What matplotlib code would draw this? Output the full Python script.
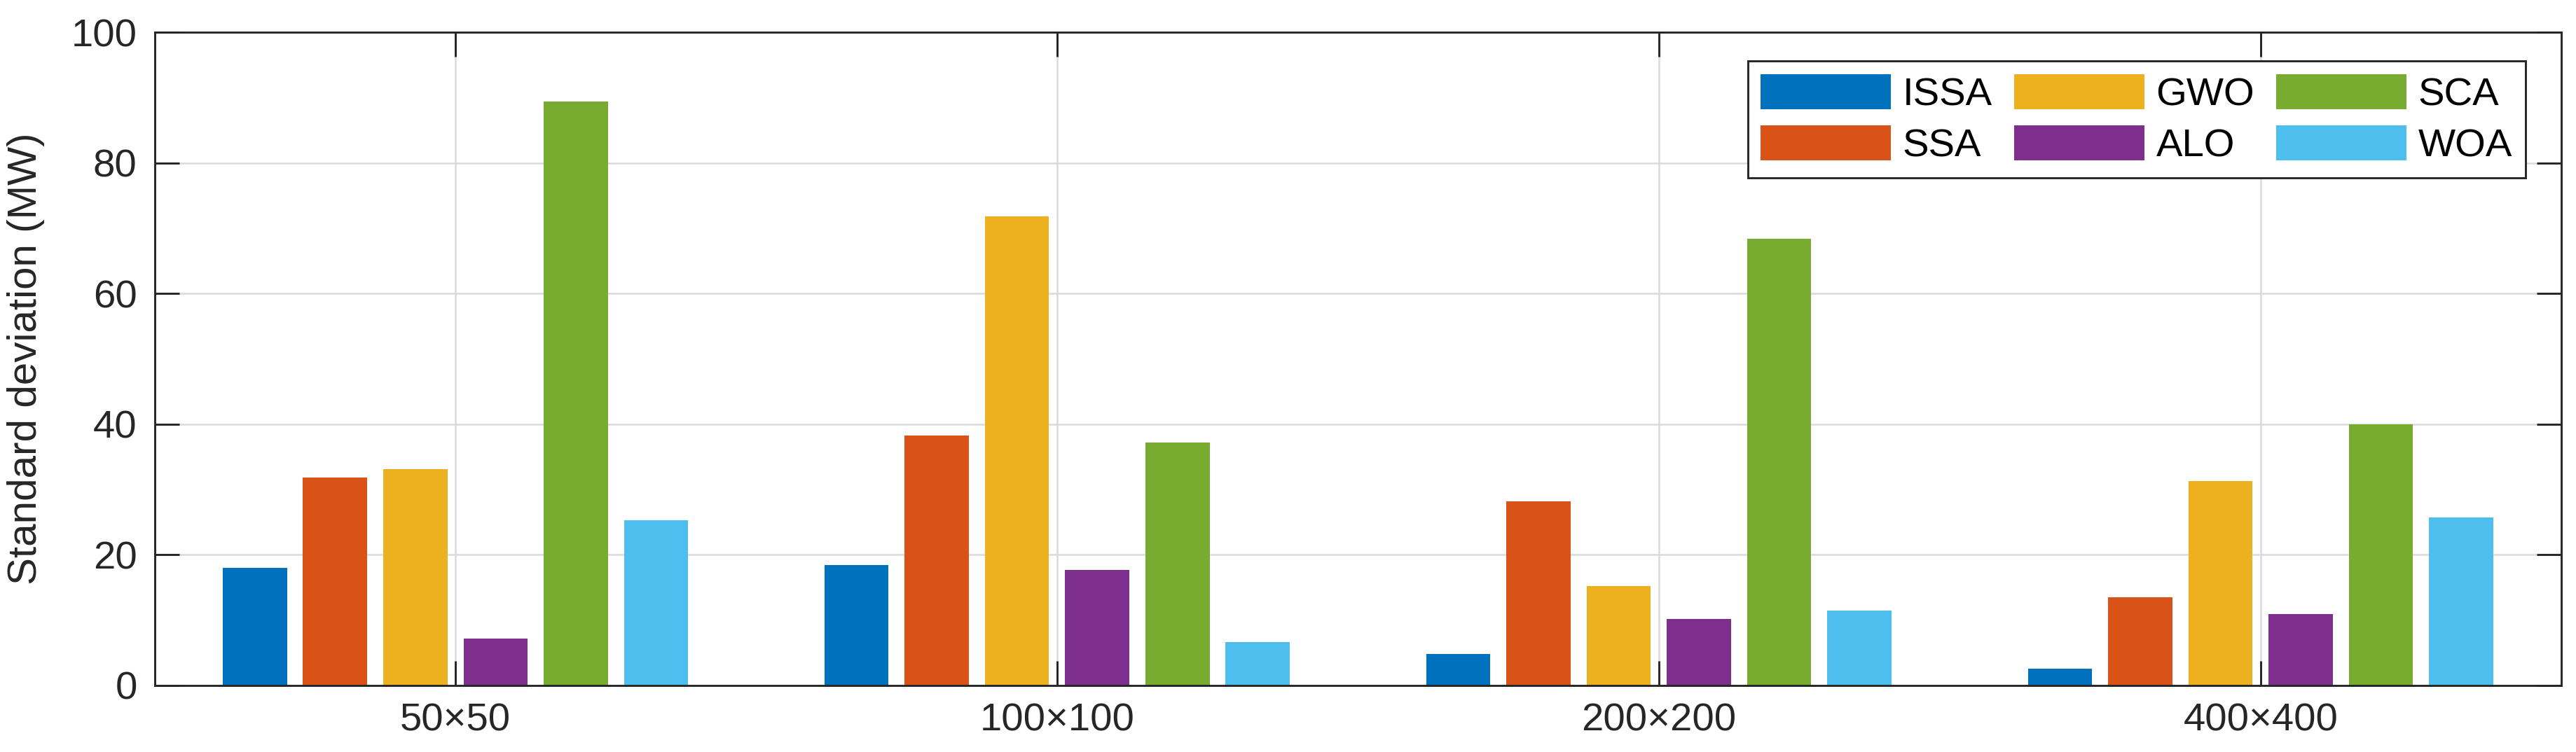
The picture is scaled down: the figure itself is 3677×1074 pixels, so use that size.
import numpy as np
import matplotlib
matplotlib.use("Agg")
import matplotlib.pyplot as plt

# ---------- Data ----------
categories = ["50×50", "100×100", "200×200", "400×400"]
algorithms = ["ISSA", "SSA", "GWO", "ALO", "SCA", "WOA"]

issa = [18.0, 18.4, 4.8, 2.6]
ssa = [31.8, 38.3, 28.2, 13.5]
gwo = [33.1, 71.8, 15.2, 31.3]
alo = [7.2, 17.7, 10.2, 10.9]
sca = [89.4, 37.2, 68.4, 40.0]
woa = [25.3, 6.6, 11.5, 25.7]

series = [issa, ssa, gwo, alo, sca, woa]
colors = ["#0072BD", "#D95319", "#EDB120", "#7E2F8E", "#77AC30", "#4DBEEE"]

plt.rcParams["font.family"] = ["Liberation Sans", "DejaVu Sans"]

fig = plt.figure(figsize=(12.257, 3.58), dpi=300)
ax = fig.add_axes([0.060, 0.0885, 0.9343, 0.8685])

x = np.arange(1, len(categories) + 1)
n = len(series)
step = 0.8 / n
for i, (vals, c, name) in enumerate(zip(series, colors, algorithms)):
    ax.bar(x + (i - (n - 1) / 2) * step, vals, width=step * 0.8, color=c,
           label=name, linewidth=0, zorder=2)

ax.set_xlim(0.5, 4.5)
ax.set_ylim(0, 100)
ax.set_xticks(x)
ax.set_xticklabels(categories)
ax.set_yticks([0, 20, 40, 60, 80, 100])
ax.set_ylabel("Standard deviation (MW)", fontsize=14, color="#262626", labelpad=9)

ax.grid(True, color="#dadada", linewidth=0.6, zorder=0)
ax.set_axisbelow(True)
for s in ax.spines.values():
    s.set_color("#262626")
    s.set_linewidth(0.7)
ax.tick_params(direction="in", length=8.5, width=0.7, color="#262626",
               labelsize=13.5, labelcolor="#262626", top=True, right=True, pad=6)

leg = ax.legend(ncol=3, loc="upper right", bbox_to_anchor=(0.985, 0.956),
                borderaxespad=0, fontsize=13.5, handlelength=3.3, handleheight=1.0,
                handletextpad=0.3, columnspacing=0.55, labelspacing=0.3,
                borderpad=0.33, fancybox=False, framealpha=1)
leg.get_frame().set_edgecolor("#262626")
leg.get_frame().set_linewidth(0.7)

fig.savefig("out.png", dpi=300)
